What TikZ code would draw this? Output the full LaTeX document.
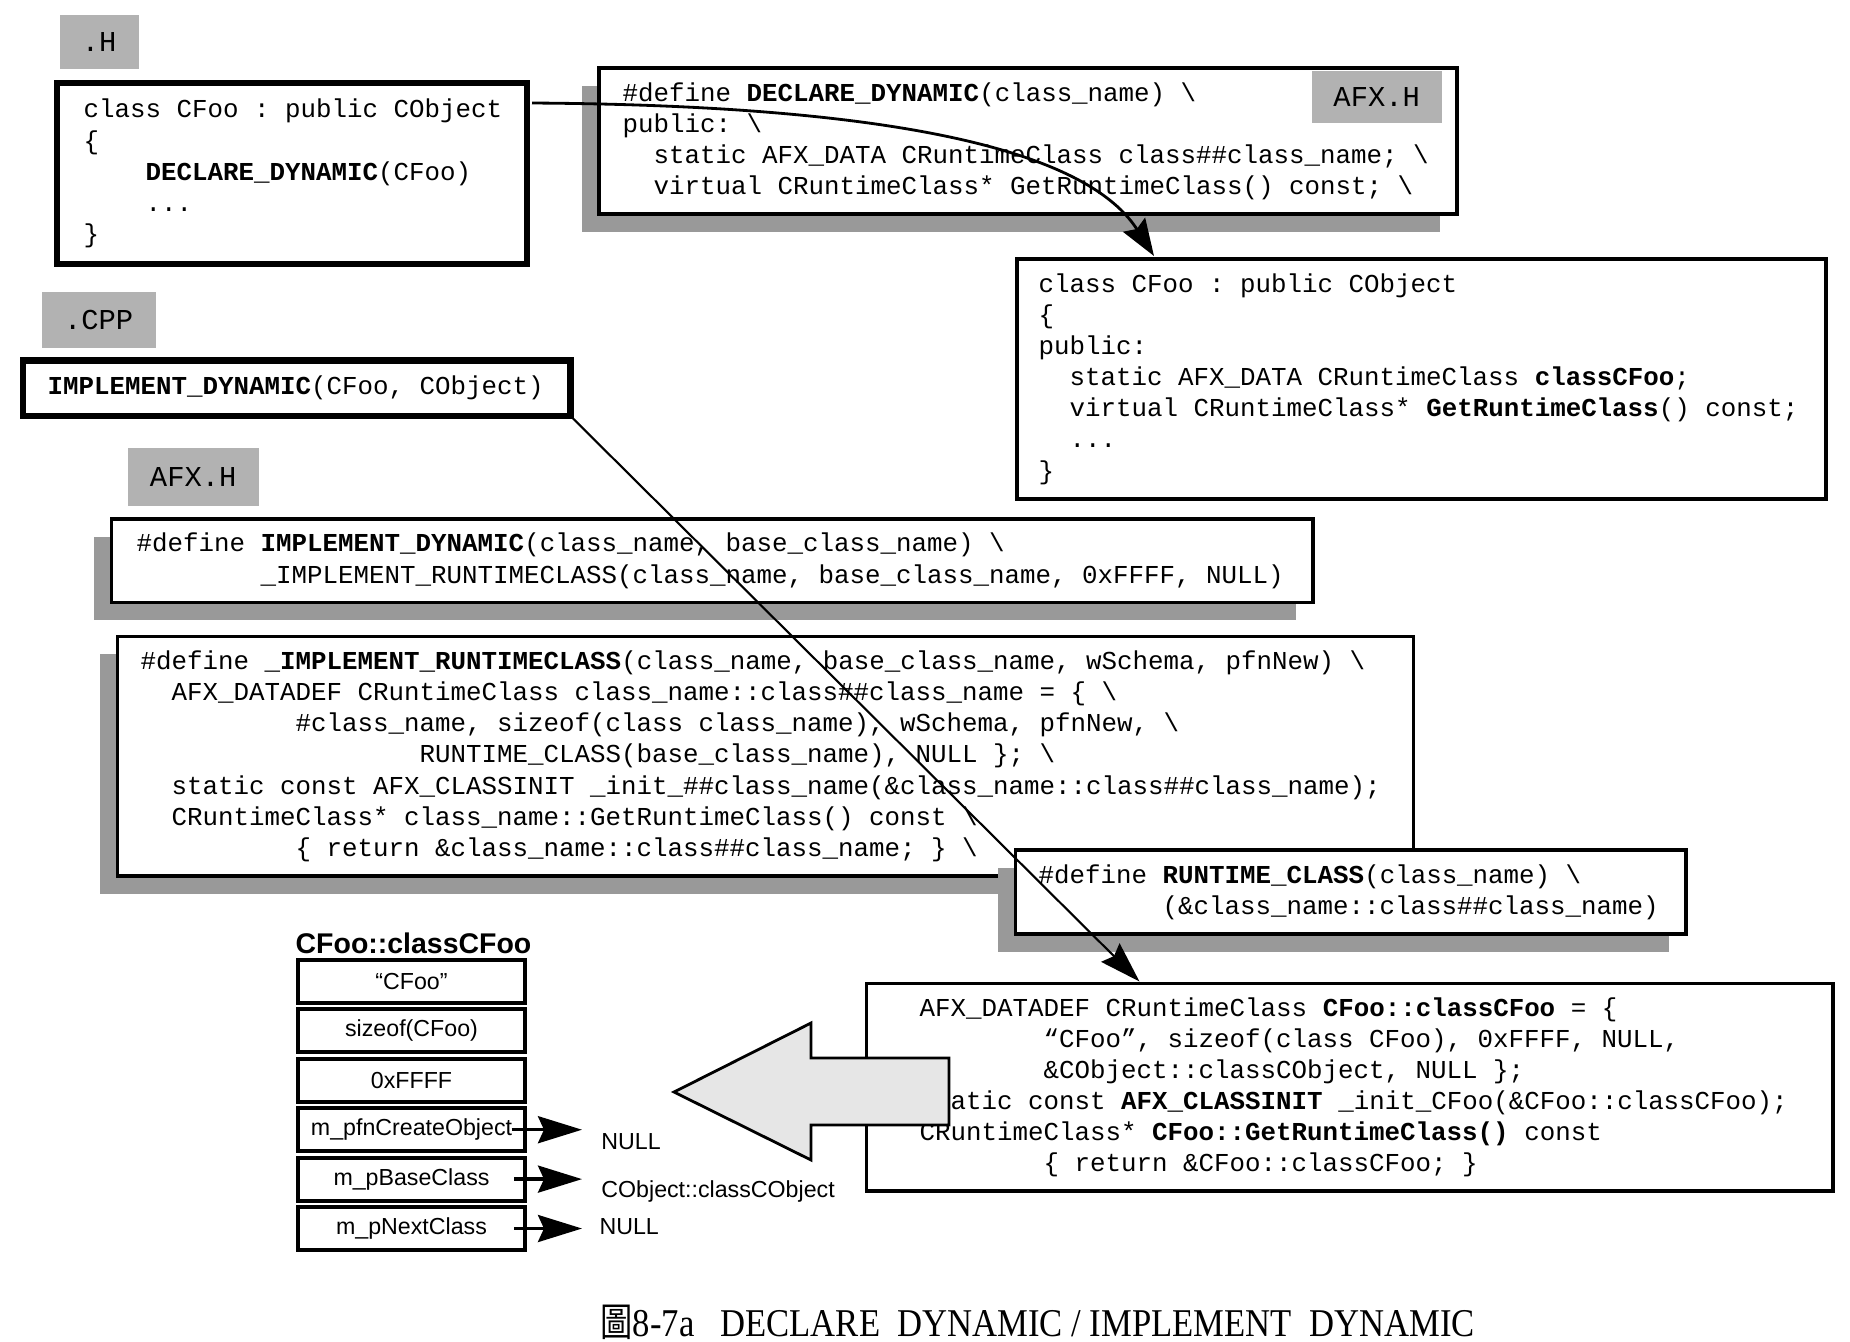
\documentclass[tikz,border=0pt]{standalone}
\usepackage{fontspec}
\setmainfont{Liberation Serif}
\setsansfont{Liberation Sans}
\setmonofont{Liberation Mono}
\newfontfamily\capfont[FakeStretch=0.88]{Liberation Serif}
\newfontfamily\cjkfont[FakeStretch=0.82]{Noto Sans CJK TC}
\usetikzlibrary{arrows.meta,positioning,calc,shadows}
\definecolor{tagGray}{RGB}{178, 178, 178}
\definecolor{shadowGray}{RGB}{153, 153, 153}
\definecolor{arrowFill}{RGB}{230, 230, 230}
\newcommand{\ind}[1]{\hspace*{#1\dimexpr0.6em\relax}}
\newcommand{\bksl}{\textbackslash}

\begin{document}
\begin{tikzpicture}[
        tag/.style={fill=tagGray, anchor=north west, inner sep=0pt, font=\fontsize{8.2pt}{10pt}\selectfont\ttfamily},
        codeframe/.style={draw, fill=white, anchor=north west, inner sep=0pt, outer sep=0pt, line width=1pt},
        heavy/.style={codeframe, line width=1.8pt},
        shadowed/.style={drop shadow={shadow xshift=-0.175cm, shadow yshift=-0.175cm, fill=shadowGray, opacity=1}},
        listing/.style={align=left, inner sep=0pt, font=\fontsize{7.35pt}{8.85pt}\selectfont\ttfamily},
        slot/.style={draw, line width=1.1pt, minimum width=2.27cm, minimum height=0.43cm, inner sep=0pt, outer sep=0pt, font=\fontsize{6.6pt}{8pt}\selectfont\sffamily},
        note/.style={anchor=west, inner sep=0pt, font=\fontsize{6.6pt}{8pt}\selectfont\sffamily},
        ptr/.style={-{Stealth[length=4.4mm, width=2.7mm, inset=0.6mm]}, line width=1pt},
        callarrow/.style={-{Stealth[length=3.7mm, width=2.6mm, inset=0.5mm]}}
    ]
        \useasboundingbox (0,0) rectangle (18.5,-13.41);

        % .H file
        \node[tag, minimum width=0.79cm, minimum height=0.54cm] (hTag) at (0.59,-0.14) {.H};
        \node[heavy, minimum width=4.70cm, minimum height=1.81cm] (hBox) at (0.57,-0.83) {};
        \node[listing, right=0.26cm of hBox.west] (hCode) {class CFoo : public CObject\\
            \{\\
            \ind{4}\textbf{DECLARE\_DYNAMIC}(CFoo)\\
            \ind{4}...\\
            \}};

        % .CPP file
        \node[tag, minimum width=1.14cm, minimum height=0.56cm] (cppTag) at (0.41,-2.91) {.CPP};
        \node[heavy, minimum width=5.475cm, minimum height=0.555cm] (cppBox) at (0.23,-3.605) {};
        \node[listing, right=0.24cm of cppBox.west] (cppCode) {\textbf{IMPLEMENT\_DYNAMIC}(CFoo, CObject)};

        % AFX.H: DECLARE_DYNAMIC
        \node[codeframe, shadowed, minimum width=8.58cm, minimum height=1.46cm] (declBox) at (5.99,-0.68) {};
        \node[tag, minimum width=1.30cm, minimum height=0.52cm] (declTag) at (13.11,-0.70) {AFX.H};
        \node[listing, right=0.23cm of declBox.west] (declCode) {\#define \textbf{DECLARE\_DYNAMIC}(class\_name) \bksl\\
            public: \bksl\\
            \ind{2}static AFX\_DATA CRuntimeClass class\#\#class\_name; \bksl\\
            \ind{2}virtual CRuntimeClass* GetRuntimeClass() const; \bksl};

        % expanded class
        \node[codeframe, minimum width=8.09cm, minimum height=2.40cm] (cfooBox) at (10.17,-2.59) {};
        \node[listing, right=0.21cm of cfooBox.west] (cfooCode) {class CFoo : public CObject\\
            \{\\
            public:\\
            \ind{2}static AFX\_DATA CRuntimeClass \textbf{classCFoo};\\
            \ind{2}virtual CRuntimeClass* \textbf{GetRuntimeClass}() const;\\
            \ind{2}...\\
            \}};

        % AFX.H: IMPLEMENT_DYNAMIC
        \node[tag, minimum width=1.31cm, minimum height=0.58cm] (implTag) at (1.27,-4.47) {AFX.H};
        \node[codeframe, shadowed, minimum width=12.015cm, minimum height=0.835cm] (implBox) at (1.115,-5.19) {};
        \node[listing, right=0.245cm of implBox.west] (implCode) {\#define \textbf{IMPLEMENT\_DYNAMIC}(class\_name, base\_class\_name) \bksl\\
            \ind{8}\_IMPLEMENT\_RUNTIMECLASS(class\_name, base\_class\_name, 0xFFFF, NULL)};

        \node[codeframe, shadowed, minimum width=12.96cm, minimum height=2.395cm] (rtBox) at (1.175,-6.365) {};
        \node[listing, right=0.225cm of rtBox.west] (rtCode) {\#define \textbf{\_IMPLEMENT\_RUNTIMECLASS}(class\_name, base\_class\_name, wSchema, pfnNew) \bksl\\
            \ind{2}AFX\_DATADEF CRuntimeClass class\_name::class\#\#class\_name = \{ \bksl\\
            \ind{10}\#class\_name, sizeof(class class\_name), wSchema, pfnNew, \bksl\\
            \ind{18}RUNTIME\_CLASS(base\_class\_name), NULL \}; \bksl\\
            \ind{2}static const AFX\_CLASSINIT \_init\_\#\#class\_name(\&class\_name::class\#\#class\_name);\\
            \ind{2}CRuntimeClass* class\_name::GetRuntimeClass() const \bksl\\
            \ind{10}\{ return \&class\_name::class\#\#class\_name; \} \bksl};

        \node[codeframe, shadowed, minimum width=6.705cm, minimum height=0.84cm] (rtcBox) at (10.155,-8.50) {};
        \node[listing, right=0.225cm of rtcBox.west] (rtcCode) {\#define \textbf{RUNTIME\_CLASS}(class\_name) \bksl\\
            \ind{8}(\&class\_name::class\#\#class\_name)};

        % expanded IMPLEMENT_DYNAMIC
        \node[codeframe, minimum width=9.665cm, minimum height=2.075cm] (expBox) at (8.665,-9.835) {};
        \node[listing, right=0.525cm of expBox.west] (expCode) {AFX\_DATADEF CRuntimeClass \textbf{CFoo::classCFoo} = \{\\
            \ind{8}“CFoo”, sizeof(class CFoo), 0xFFFF, NULL,\\
            \ind{8}\&CObject::classCObject, NULL \};\\
            static const \textbf{AFX\_CLASSINIT} \_init\_CFoo(\&CFoo::classCFoo);\\
            CRuntimeClass* \textbf{CFoo::GetRuntimeClass()} const\\
            \ind{8}\{ return \&CFoo::classCFoo; \}};

        % big hollow arrow
        \draw[fill=arrowFill, line width=0.8pt] (6.74,-10.92) -- (8.11,-10.23) -- (8.11,-10.58) -- (9.49,-10.58)
            -- (9.49,-11.25) -- (8.11,-11.25) -- (8.11,-11.60) -- cycle;

        % CRuntimeClass object
        \node[anchor=base, inner sep=0pt, font=\fontsize{8.1pt}{10pt}\selectfont\sffamily\bfseries] (structTitle) at (4.135,-9.53) {CFoo::classCFoo};
        \node[slot, anchor=north] (s1) at (4.115,-9.60) {“CFoo”};
        \node[slot, below=0.064cm of s1] (s2) {sizeof(CFoo)};
        \node[slot, below=0.064cm of s2] (s3) {0xFFFF};
        \node[slot, below=0.064cm of s3] (s4) {m\_pfnCreateObject};
        \node[slot, below=0.064cm of s4] (s5) {m\_pBaseClass};
        \node[slot, below=0.064cm of s5] (s6) {m\_pNextClass};

        \node[note] (nullA) at (6.007,-11.415) {NULL};
        \node[note] (baseObj) at (6.007,-11.915) {CObject::classCObject};
        \node[note] (nullB) at (5.988,-12.265) {NULL};
        \draw[ptr] ($(s4.east)+(-0.135,0)$) -- ($(s4.east)+(0.57,0)$);
        \draw[ptr] ($(s5.east)+(-0.11,0)$) -- ($(s5.east)+(0.57,0)$);
        \draw[ptr] ($(s6.east)+(-0.11,0)$) -- ($(s6.east)+(0.57,0)$);

        % expansion arrows
        \draw[callarrow, line width=0.8pt] ($(hBox.north east)+(0.05,-0.20)$) .. controls (8.5,-1.05) and (10.8,-1.4) .. ($(cfooBox.north west)+(1.37,0.03)$);
        \draw[callarrow, line width=0.6pt, -{Stealth[length=4.1mm, width=2.6mm, inset=0.5mm]}] (cppBox.south east) -- ($(expBox.north west)+(2.73,0.02)$);

        % caption
        \node[anchor=base west, inner sep=0pt, font=\fontsize{11.2pt}{13pt}\selectfont\capfont] (caption) at (6.00,-13.36) {{\cjkfont 圖}8-7a\ \ \ DECLARE\ \ DYNAMIC / IMPLEMENT\ \ DYNAMIC};
    \end{tikzpicture}
\end{document}
